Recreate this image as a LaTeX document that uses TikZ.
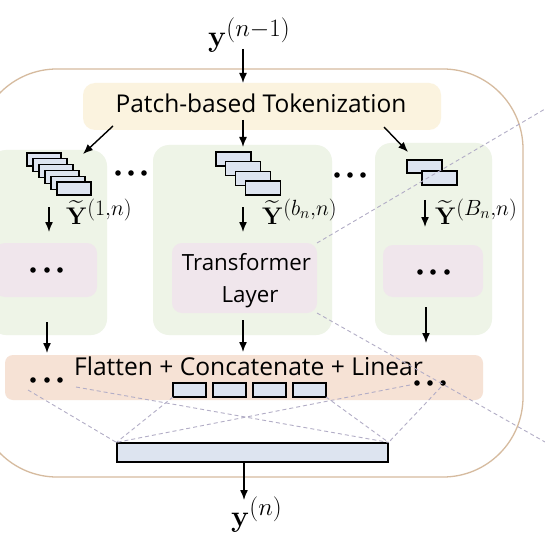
\RequirePackage{fix-cm}
\documentclass[tikz,border=0pt]{standalone}
\usepackage{amsmath}
\usepackage[no-math]{fontspec}
\setmainfont{Open Sans}
\usetikzlibrary{arrows.meta}
\DeclareMathSizes{30}{30}{25}{18}
\DeclareMathSizes{24}{24}{22}{16}
\definecolor{outerc}{HTML}{D6BB9F}
\definecolor{tokc}{HTML}{FBF3DF}
\definecolor{greenc}{HTML}{EEF4E7}
\definecolor{pinkc}{HTML}{F0E6EC}
\definecolor{flatc}{HTML}{F6E2D5}
\definecolor{patchc}{HTML}{DDE4F0}
\definecolor{dashc}{HTML}{B2ADC6}
\begin{document}
\begin{tikzpicture}[x=1pt,y=-1pt,
  arr/.style={-{Latex[length=10pt,width=8pt]}, line width=1.4pt},
  dsh/.style={draw=dashc, line width=0.9pt, dash pattern=on 4pt off 3pt},
  bg/.style={inner sep=0pt, outer sep=0pt},
  patch/.style={draw=black, fill=patchc, line width=1.2pt, minimum width=35pt, minimum height=14pt, inner sep=0pt, outer sep=0pt, anchor=north west},
  dotn/.style={circle, fill=black, inner sep=0pt, minimum size=5.6pt},
  sans/.style={font=\fontsize{#1}{#1}\selectfont, inner sep=0pt},
  bigmath/.style={font=\fontsize{30}{36}\selectfont, inner sep=0pt, anchor=base west},
  ymath/.style={font=\fontsize{24}{28}\selectfont, inner sep=0pt, anchor=base west}
]
\useasboundingbox (0,0) rectangle (545,545);
\fill[white] (0,0) rectangle (545,545);

% outer container
\node[bg, draw=outerc, line width=1.3pt, rounded corners=80pt, minimum width=546pt, minimum height=408pt] (outer) at (250,273) {};

% tokenization box
\node[bg, fill=tokc, rounded corners=12pt, minimum width=358pt, minimum height=47pt] (tok) at (262,106.5) {};
\node[sans=24.5, anchor=base] (toktxt) at (261,113) {Patch-based Tokenization};

% columns
\node[bg, fill=greenc, rounded corners=16pt, minimum width=117pt, minimum height=185pt] (col1) at (48.5,242.5) {};
\node[bg, fill=greenc, rounded corners=16pt, minimum width=179pt, minimum height=190pt] (col2) at (242.5,240) {};
\node[bg, fill=greenc, rounded corners=16pt, minimum width=117pt, minimum height=192pt] (col3) at (433.5,239) {};

% layer boxes
\node[bg, fill=pinkc, rounded corners=10pt, minimum width=102pt, minimum height=54pt] (p1) at (46,270) {};
\node[bg, fill=pinkc, rounded corners=10pt, minimum width=145pt, minimum height=70pt] (tl) at (244.5,278) {};
\node[bg, fill=pinkc, rounded corners=10pt, minimum width=100pt, minimum height=52pt] (p3) at (433,271) {};
\node[sans=22.3, anchor=base] (tltxt1) at (246.5,270) {Transformer};
\node[sans=22.3, anchor=base] (tltxt2) at (250,302) {Layer};

% flatten box
\node[bg, fill=flatc, rounded corners=8pt, minimum width=478pt, minimum height=45pt] (flat) at (244,377.5) {};
\node[sans=24.6, anchor=base] (flattxt) at (248.5,375) {Flatten + Concatenate + Linear};

% patch stacks
\foreach \i in {0,...,5} {
  \node[patch, minimum width=34pt, minimum height=13pt] (s1\i) at ({27+6*\i},{153+5.8*\i}) {};
}
\foreach \i in {0,...,3} {
  \node[patch] (s2\i) at ({216+9.7*\i},{152+9.7*\i}) {};
}
\node[patch, minimum height=13pt] (s30) at (407,160) {};
\node[patch] (s31) at (422,171) {};

% small tokens in flatten box
\foreach \i in {0,...,3} {
  \node[patch, minimum width=33pt] (r\i) at ({173+40*\i},383) {};
}
% long output vector
\node[draw=black, fill=patchc, line width=1.2pt, inner sep=0pt, minimum width=271pt, minimum height=19pt] (lr) at (252.5,452.5) {};

% dots
\foreach \x [count=\k] in {118,131,144} { \node[dotn] (da\k) at (\x,173) {}; }
\foreach \x [count=\k] in {337,350,363} { \node[dotn] (db\k) at (\x,175) {}; }
\foreach \x [count=\k] in {33,47,60} { \node[dotn] (dp\k) at (\x,270) {}; }
\foreach \x [count=\k] in {420,433,447} { \node[dotn] (dq\k) at (\x,272) {}; }
\foreach \x [count=\k] in {33,47,60} { \node[dotn] (dl\k) at (\x,380) {}; }
\foreach \x [count=\k] in {417,430,443} { \node[dotn] (dr\k) at (\x,383) {}; }

% math labels
\node[bigmath] (yin) at (208,47) {$\mathbf{y}^{(n-1)}$};
\node[bigmath] (yout) at (231,526) {$\mathbf{y}^{(n)}$};
\node[ymath] (l1) at (66,224) {$\widetilde{\mathbf{Y}}^{(1,n)}$};
\node[ymath] (l2) at (262,224) {$\widetilde{\mathbf{Y}}^{(b_n,n)}$};
\node[ymath] (l3) at (435,224) {$\widetilde{\mathbf{Y}}^{(B_n,n)}$};

% coordinates for arrows
\coordinate (a0) at (243,49);
\coordinate (t1s) at (113,126); \coordinate (t1e) at (83,154);
\coordinate (t2s) at (243,120); \coordinate (t2e) at (243,147);
\coordinate (t3s) at (384,127); \coordinate (t3e) at (408,152);
\coordinate (d1s) at (49,207); \coordinate (d1e) at (49,232);
\coordinate (d2s) at (243,207); \coordinate (d2e) at (243,232);
\coordinate (d3s) at (425,200); \coordinate (d3e) at (425,227);
\coordinate (e1s) at (47,322); \coordinate (e1e) at (47,353);
\coordinate (e2s) at (243,320); \coordinate (e2e) at (243,352);
\coordinate (e3s) at (426,307); \coordinate (e3e) at (426,343);
\coordinate (o1) at (244,500);

\draw[arr] (a0) -- (a0 |- tok.north);
\draw[arr] (t1s) -- (t1e);
\draw[arr] (t2s) -- (t2e);
\draw[arr] (t3s) -- (t3e);
\draw[arr] (d1s) -- (d1e);
\draw[arr] (d2s) -- (d2e);
\draw[arr] (d3s) -- (d3e);
\draw[arr] (e1s) -- (e1e);
\draw[arr] (e2s) -- (e2e);
\draw[arr] (e3s) -- (e3e);
\draw[arr] (o1 |- lr.south) -- (o1);

% dashed zoom lines
\coordinate (z1) at (28,390);
\coordinate (z2) at (76,387);
\coordinate (z5) at (441,387);
\coordinate (z6) at (410,385);
\coordinate (zA) at (545,109);
\coordinate (zB) at (545,442);
\draw[dsh] (z1) -- (lr.north west);
\draw[dsh] (z2) -- (lr.north east);
\draw[dsh] (r0.south west) -- (lr.north west);
\draw[dsh] (r3.south east) -- (lr.north east);
\draw[dsh] (z5) -- (lr.north east);
\draw[dsh] (z6) -- (lr.north west);
\draw[dsh] (tl.north east) -- (zA);
\draw[dsh] (tl.south east) -- (zB);
\end{tikzpicture}
\end{document}
